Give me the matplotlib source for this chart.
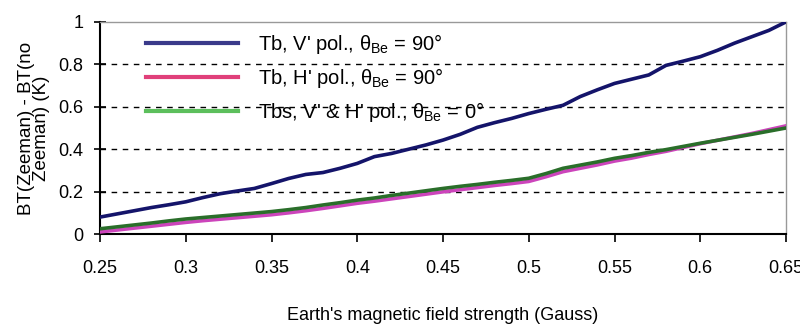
import matplotlib
matplotlib.use("Agg")
import matplotlib.pyplot as plt

# Field strength (Gauss)
field = [0.25, 0.26, 0.27, 0.28, 0.29, 0.30, 0.31, 0.32, 0.33, 0.34,
         0.35, 0.36, 0.37, 0.38, 0.39, 0.40, 0.41, 0.42, 0.43, 0.44,
         0.45, 0.46, 0.47, 0.48, 0.49, 0.50, 0.51, 0.52, 0.53, 0.54,
         0.55, 0.56, 0.57, 0.58, 0.59, 0.60, 0.61, 0.62, 0.63, 0.64, 0.65]

# Tb, V pol., theta = 90
tb_v = [0.080, 0.095, 0.110, 0.125, 0.138, 0.152, 0.172, 0.190, 0.203, 0.215,
        0.238, 0.262, 0.281, 0.290, 0.310, 0.333, 0.365, 0.380, 0.400, 0.420,
        0.443, 0.470, 0.503, 0.525, 0.545, 0.568, 0.588, 0.607, 0.648, 0.680,
        0.710, 0.730, 0.750, 0.795, 0.815, 0.836, 0.866, 0.900, 0.930, 0.960, 1.000]

# Tb, H pol., theta = 90
tb_h = [0.010, 0.019, 0.028, 0.037, 0.046, 0.055, 0.063, 0.070, 0.077, 0.084,
        0.091, 0.100, 0.110, 0.121, 0.133, 0.145, 0.155, 0.166, 0.177, 0.188,
        0.199, 0.209, 0.219, 0.229, 0.238, 0.248, 0.270, 0.294, 0.310, 0.326,
        0.344, 0.358, 0.375, 0.390, 0.408, 0.426, 0.442, 0.458, 0.474, 0.492, 0.510]

# Tbs, V & H pol., theta = 0
tbs = [0.025, 0.034, 0.043, 0.052, 0.062, 0.071, 0.078, 0.085, 0.092, 0.099,
       0.106, 0.115, 0.125, 0.137, 0.148, 0.160, 0.170, 0.182, 0.193, 0.204,
       0.215, 0.225, 0.234, 0.244, 0.253, 0.263, 0.285, 0.310, 0.325, 0.340,
       0.357, 0.370, 0.385, 0.398, 0.413, 0.428, 0.442, 0.456, 0.470, 0.485, 0.500]

xticks = [0.25, 0.3, 0.35, 0.4, 0.45, 0.5, 0.55, 0.6, 0.65]
xtick_labels = ["0.25", "0.3", "0.35", "0.4", "0.45", "0.5", "0.55", "0.6", "0.65"]
yticks = [0, 0.2, 0.4, 0.6, 0.8, 1]
ytick_labels = ["0", "0.2", "0.4", "0.6", "0.8", "1"]
grid_levels = [0.2, 0.4, 0.6, 0.8]

plt.rcParams['font.family'] = ['Liberation Sans', 'DejaVu Sans']
plt.rcParams['mathtext.fontset'] = 'custom'
plt.rcParams['mathtext.rm'] = 'Liberation Sans'
plt.rcParams['mathtext.it'] = 'Liberation Sans'

fig = plt.figure(figsize=(8, 3.32), dpi=100)
ax = fig.add_axes([0.125, 0.295, 0.8575, 0.639])

for lvl in grid_levels:
    ax.axhline(lvl, color='black', linewidth=1, linestyle=(0, (4, 4)), zorder=1)

ax.plot(field, tb_v, color='#14146a', linewidth=2.6, zorder=3,
        label=r"Tb, V' pol., $\theta_{\rm Be}$ = 90°")
ax.plot(field, tb_h, color='#cc44bb', linewidth=2.6, zorder=3,
        label=r"Tb, H' pol., $\theta_{\rm Be}$ = 90°")
ax.plot(field, tbs, color='#2a6e2a', linewidth=2.6, zorder=4,
        label=r"Tbs, V' & H' pol., $\theta_{\rm Be}$ = 0°")

ax.set_xlim(0.25, 0.65)
ax.set_ylim(0, 1)
ax.set_xticks(xticks)
ax.set_xticklabels(xtick_labels, fontsize=13)
ax.set_yticks(yticks)
ax.set_yticklabels(ytick_labels, fontsize=13)
ax.tick_params(axis='x', direction='out', length=6, width=1.2, pad=13)
ax.tick_params(axis='y', direction='inout', length=8, width=1.2, pad=8)

for side in ['left', 'bottom']:
    ax.spines[side].set_color('black')
    ax.spines[side].set_linewidth(1.5)
for side in ['top', 'right']:
    ax.spines[side].set_color('#999999')
    ax.spines[side].set_linewidth(1)

ax.set_xlabel("Earth's magnetic field strength (Gauss)", fontsize=13, labelpad=21)
ax.set_ylabel("BT(Zeeman) - BT(no\nZeeman) (K)", fontsize=13.5, labelpad=6,
              linespacing=0.85)

leg = ax.legend(loc='upper left', bbox_to_anchor=(0.04, 1.04), frameon=False,
                fontsize=14.5, handlelength=4.6, handletextpad=1.0,
                labelspacing=0.5)
for line in leg.get_lines():
    line.set_linewidth(3)
leg.get_lines()[0].set_color('#3a3a8a')
leg.get_lines()[1].set_color('#e0407a')
leg.get_lines()[2].set_color('#5cbf5c')

fig.savefig("out.png", dpi=100)
